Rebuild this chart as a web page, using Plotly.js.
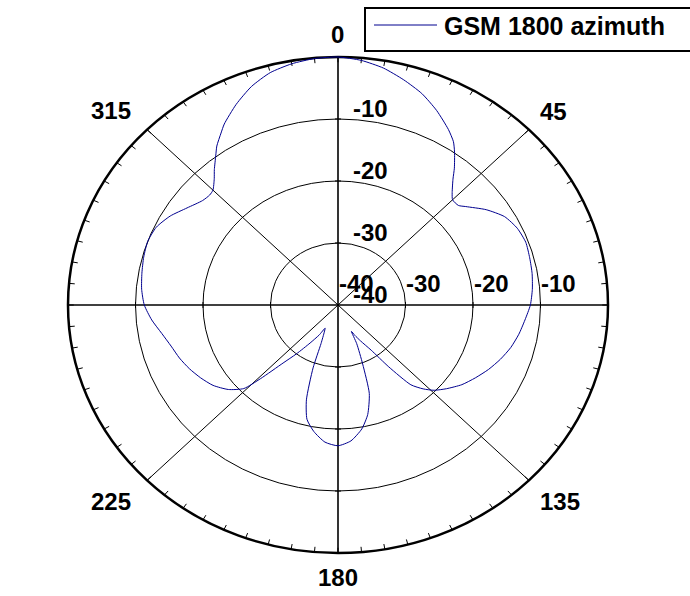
<!DOCTYPE html>
<html>
<head>
<meta charset="utf-8">
<script src="https://cdn.plot.ly/plotly-3.0.1.min.js"></script>
<style>html,body{margin:0;padding:0;background:#fff;}#chart{width:690px;height:596px;}</style>
</head>
<body>
<div id="chart"></div>
<script>
// ---- data (compass angle in degrees, gain in dB) ----
const seriesName = "GSM 1800 azimuth";
const angleDeg = [0,5,10,15,20,25,30,33,35,38,40,43,45,48,50,55,60,65,70,75,80,85,90,95,100,105,110,115,120,125,130,134,137,140,143,146,150,153,155,156,159,162,166,170,175,180,185,190,194,197,200,202,205,207,210,214,218,221,224,226,230,235,240,245,250,255,260,265,270,275,280,285,290,295,300,305,310,313,315,318,320,323,325,328,330,335,340,345,350,355,360];
const gainDb = [0,-0.4,-1.2,-2.4,-3.7,-5.4,-7.3,-8.6,-9.9,-12.0,-13.5,-15.2,-16.0,-16.0,-15.3,-13.2,-11.5,-10.7,-10.4,-10.6,-10.8,-11.1,-11.5,-12.2,-12.8,-13.5,-14.4,-15.4,-16.5,-17.6,-19.0,-20.2,-21.5,-23.2,-27.5,-31.2,-33.3,-34.5,-35.3,-33.2,-29.8,-25.0,-21.8,-19.7,-18.0,-17.3,-17.8,-19.3,-21.0,-24.0,-29.2,-33.3,-35.2,-35.8,-34.4,-32.6,-30.0,-27.6,-23.5,-20.6,-18.8,-17.4,-16.5,-15.7,-15.0,-14.4,-13.5,-12.3,-11.3,-10.8,-10.5,-10.2,-10.0,-10.3,-11.3,-12.7,-13.8,-14.0,-13.8,-12.6,-11.5,-9.9,-8.7,-7.3,-6.3,-4.3,-2.5,-1.2,-0.5,-0.1,0];
const ringValues = [-40,-30,-20,-10];
const ringLabels = ["-40","-30","-20","-10"];
const angleTicks = [0,45,90,135,180,225,270,315];
const angleTickLabels = ["0","45","90","135","180","225","270","315"];
const rMin = -40, rMax = 0;

// ---- layout geometry ----
const cx = 338, cy = 305, sx = 6.75, sy = 6.2;
const mL = 41, mR = 55, mT = 32, mB = 18;
const W = 690, H = 596;
const px2x = p => (p - cx) / sx;
const py2y = p => (cy - p) / sy;
const rad = d => d * Math.PI / 180;
const R = rMax - rMin;

// polar -> cartesian through the axis scales
const xs = angleDeg.map((a, i) => (gainDb[i] - rMin) * Math.sin(rad(a)));
const ys = angleDeg.map((a, i) => (gainDb[i] - rMin) * Math.cos(rad(a)));

const shapes = [];
const FONT = "Liberation Sans, Arial, sans-serif";
const LBL = 24;
// rings
ringValues.slice(1).forEach(v => {
  const r = v - rMin;
  shapes.push({type:'circle', xref:'x', yref:'y', x0:-r, x1:r, y0:-r, y1:r, line:{color:'#000', width:1}, layer:'below'});
});
shapes.push({type:'circle', xref:'x', yref:'y', x0:-R, x1:R, y0:-R, y1:R, line:{color:'#000', width:2.5}, layer:'below'});
// spokes
angleTicks.forEach(a => {
  const main = a % 90 === 0;
  shapes.push({type:'line', xref:'x', yref:'y', x0:0, y0:0, x1:R*Math.sin(rad(a)), y1:R*Math.cos(rad(a)), line:{color:'#000', width: main ? 1.6 : 1}, layer:'below'});
});
// minor ticks on outer circle every 5 degrees
for (let a = 0; a < 360; a += 5) {
  const r0 = R, r1 = R - 0.85;
  shapes.push({type:'line', xref:'x', yref:'y', x0:r0*Math.sin(rad(a)), y0:r0*Math.cos(rad(a)), x1:r1*Math.sin(rad(a)), y1:r1*Math.cos(rad(a)), line:{color:'#000', width:1}, layer:'below'});
}
// small ticks where rings cross the axes
ringValues.slice(1).forEach(v => {
  const r = v - rMin;
  [1,-1].forEach(s => {
    shapes.push({type:'line', xref:'x', yref:'y', x0:-3/sx, x1:3/sx, y0:s*r, y1:s*r, line:{color:'#000', width:1}, layer:'below'});
    shapes.push({type:'line', xref:'x', yref:'y', x0:s*r, x1:s*r, y0:-3/sy, y1:3/sy, line:{color:'#000', width:1}, layer:'below'});
  });
});

const annotations = [];
// angle labels (pixel centres of the label boxes)
const anglePos = {0:[337,34],45:[553,111],90:[636,306],135:[560,501],180:[338,577],225:[111,501],270:[28,305],315:[111,110]};
angleTicks.forEach((a, i) => {
  const p = anglePos[a];
  annotations.push({xref:'x', yref:'y', x:px2x(p[0]), y:py2y(p[1]), text:angleTickLabels[i], showarrow:false, xanchor:'center', yanchor:'middle', font:{family:FONT, size:LBL, color:'#000', weight:'bold'}});
});
// radial labels along vertical axis and along horizontal axis
ringValues.forEach((v, i) => {
  const r = v - rMin;
  annotations.push({xref:'x', yref:'y', x:px2x(370.5), y:r + 10.5/sy, text:ringLabels[i], showarrow:false, xanchor:'center', yanchor:'middle', font:{family:FONT, size:LBL, color:'#000', weight:'bold'}});
  annotations.push({xref:'x', yref:'y', x:r + 18/sx, y:py2y(283), text:ringLabels[i], showarrow:false, xanchor:'center', yanchor:'middle', font:{family:FONT, size:LBL, color:'#000', weight:'bold'}});
});
// legend box
const pw = W - mL - mR, ph = H - mT - mB;
const paperX = p => (p - mL) / pw;
const paperY = p => (H - mB - p) / ph;
shapes.push({type:'rect', xref:'paper', yref:'paper', x0:paperX(365), x1:paperX(700), y0:paperY(51), y1:paperY(8), line:{color:'#000', width:2}, fillcolor:'#fff', layer:'above'});
shapes.push({type:'line', xref:'paper', yref:'paper', x0:paperX(374), x1:paperX(437), y0:paperY(25), y1:paperY(25), line:{color:'#00008f', width:1}, layer:'above'});
annotations.push({xref:'paper', yref:'paper', x:paperX(442), y:paperY(26), text:seriesName, showarrow:false, xanchor:'left', yanchor:'middle', font:{family:FONT, size:25, color:'#000', weight:'bold'}});

const trace = {type:'scatter', mode:'lines', x:xs, y:ys, name:seriesName, showlegend:false, hoverinfo:'skip', line:{color:'#00008f', width:1, shape:'spline', smoothing:0.6}, cliponaxis:false};

const xr = (pw/2)/sx, yr = (ph/2)/sy;
const layout = {
  width:W, height:H,
  margin:{l:mL, r:mR, t:mT, b:mB, autoexpand:false},
  paper_bgcolor:'#fff', plot_bgcolor:'#fff',
  showlegend:false,
  xaxis:{range:[-xr, xr], visible:false, showgrid:false, zeroline:false, fixedrange:true},
  yaxis:{range:[-yr, yr], visible:false, showgrid:false, zeroline:false, fixedrange:true},
  shapes:shapes, annotations:annotations
};
Plotly.newPlot('chart', [trace], layout, {staticPlot:true, displayModeBar:false});
</script>
</body>
</html>
